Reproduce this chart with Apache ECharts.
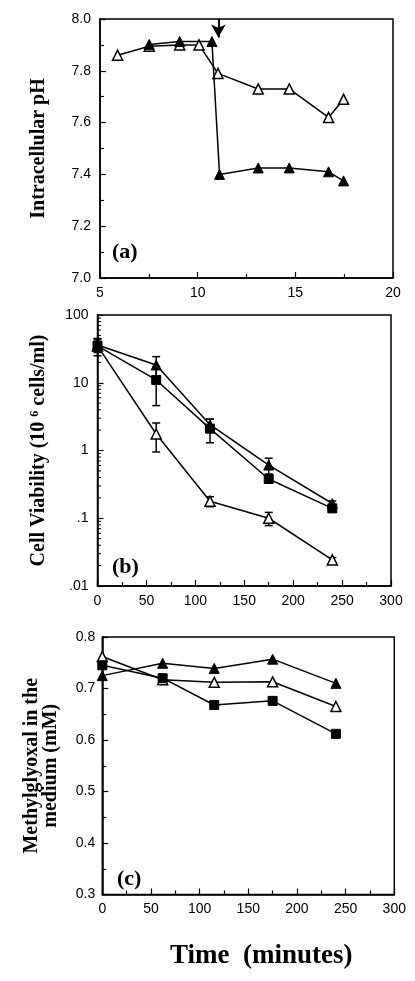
<!DOCTYPE html>
<html><head><meta charset="utf-8">
<script src="https://cdn.jsdelivr.net/npm/echarts@6/dist/echarts.min.js"></script>
<style>html,body{margin:0;padding:0;background:#fff}#c{width:415px;height:981px}</style>
</head><body><div id="c"></div>
<script>
// ---- Panel (a): intracellular pH vs time ----
const timeAOpen   = [5.9, 7.52, 9.08, 10.07, 11.04, 13.1, 14.69, 16.7, 17.47];
const phOpen      = [7.86, 7.895, 7.90, 7.90, 7.79, 7.73, 7.73, 7.62, 7.69];
const timeAFilled = [7.52, 9.08, 10.73, 11.12, 13.1, 14.69, 16.7, 17.47];
const phFilled    = [7.902, 7.913, 7.913, 7.40, 7.425, 7.425, 7.41, 7.375];
const arrowTime   = 11.06;
const xTicksA = [5, 10, 15, 20];
const yTicksA = [7.0, 7.2, 7.4, 7.6, 7.8, 8.0];

// ---- Panel (b): cell viability (log) ----
const timeB = [0, 60, 115, 175, 240];
const viabFilledTri    = [36, 18.3, 2.4, 0.61, 0.165];
const viabFilledTriErr = [8, 6, 0.5, 0.16, 0.015];
const viabSquare       = [35, 11, 2.1, 0.38, 0.14];
const viabSquareErr    = [10, 6.4, 0.8, 0.05, 0.015];
const viabOpen         = [35, 1.75, 0.178, 0.10, 0.0243];
const viabOpenErr      = [6, 0.8, 0.03, 0.022, 0.002];
const yTicksB = ['.01', '.1', '1', '10', '100'];

// ---- Panel (c): methylglyoxal in medium ----
const timeC = [0, 62, 115, 175, 240];
const mgFilledTri = [0.725, 0.749, 0.739, 0.757, 0.710];
const mgOpen      = [0.762, 0.717, 0.712, 0.713, 0.665];
const mgSquare    = [0.745, 0.720, 0.668, 0.676, 0.612];
const xTicksBC = [0, 50, 100, 150, 200, 250, 300];
const yTicksC = [0.3, 0.4, 0.5, 0.6, 0.7, 0.8];

const zip = (xs, ys) => xs.map((x, i) => [x, ys[i]]);
const errData = (xs, ys, es) => xs.map((x, i) => [x, ys[i] - es[i], ys[i] + es[i]]);

const BLACK = '#000';
const SERIF = '"Liberation Serif", "Times New Roman", serif';
const SANS = '"Liberation Sans", Arial, Helvetica, sans-serif';
const TICKFS = 14;

function axisBase(extra) {
  return Object.assign({
    axisLine: {show: true, onZero: false, lineStyle: {color: BLACK, width: 1.5}},
    axisTick: {show: true, inside: true, length: 6, lineStyle: {color: BLACK, width: 1.2}},
    minorTick: {show: true, splitNumber: 2, length: 4, lineStyle: {color: BLACK, width: 1.2}},
    splitLine: {show: false},
    minorSplitLine: {show: false},
    axisLabel: {color: BLACK, fontFamily: SANS, fontSize: TICKFS, margin: 8}
  }, extra);
}
const nameStyle = {color: BLACK, fontFamily: SERIF, fontWeight: 'bold', fontSize: 20};

const triOpen = {color: '#fff', borderColor: BLACK, borderWidth: 1.5};
const triFill = {color: BLACK, borderColor: BLACK, borderWidth: 1};
const lineSt = {color: BLACK, width: 1.5};

function lineSeries(xi, data, symbol, item, size, extra) {
  return Object.assign({
    type: 'line', xAxisIndex: xi, yAxisIndex: xi, data: data,
    symbol: symbol, symbolSize: size, showAllSymbol: true,
    itemStyle: item, lineStyle: lineSt, clip: false, animation: false, z: 3
  }, extra || {});
}

function errSeries(data) {
  return {
    type: 'custom', xAxisIndex: 1, yAxisIndex: 1, data: data, z: 2, animation: false, clip: false,
    renderItem: function (params, api) {
      const x = api.value(0);
      const p1 = api.coord([x, api.value(1)]);
      const p2 = api.coord([x, api.value(2)]);
      const w = 4;
      const st = {stroke: BLACK, lineWidth: 1.5};
      return {type: 'group', children: [
        {type: 'line', shape: {x1: p1[0], y1: p1[1], x2: p2[0], y2: p2[1]}, style: st},
        {type: 'line', shape: {x1: p1[0] - w, y1: p1[1], x2: p1[0] + w, y2: p1[1]}, style: st},
        {type: 'line', shape: {x1: p2[0] - w, y1: p2[1], x2: p2[0] + w, y2: p2[1]}, style: st}
      ]};
    }
  };
}

// log-axis minor tick positions (2..9 within each decade)
const logMinor = [];
[0.01, 0.1, 1, 10].forEach(d => { for (let m = 2; m <= 9; m++) logMinor.push([0, d * m]); });

const option = {
  backgroundColor: '#fff',
  animation: false,
  grid: [
    {left: 100, top: 19, width: 293, height: 259, show: true, borderColor: BLACK, borderWidth: 1.5, backgroundColor: 'transparent'},
    {left: 97.5, top: 315, width: 293.5, height: 271, show: true, borderColor: BLACK, borderWidth: 1.5, backgroundColor: 'transparent'},
    {left: 102.3, top: 637, width: 292, height: 257.5, show: true, borderColor: BLACK, borderWidth: 1.5, backgroundColor: 'transparent'}
  ],
  xAxis: [
    axisBase({type: 'value', gridIndex: 0, min: xTicksA[0], max: xTicksA[xTicksA.length - 1], interval: 5}),
    axisBase({type: 'value', gridIndex: 1, min: xTicksBC[0], max: xTicksBC[xTicksBC.length - 1], interval: 50}),
    axisBase({type: 'value', gridIndex: 2, min: xTicksBC[0], max: xTicksBC[xTicksBC.length - 1], interval: 50})
  ],
  yAxis: [
    axisBase({type: 'value', gridIndex: 0, min: yTicksA[0], max: yTicksA[yTicksA.length - 1], interval: 0.2,
      axisLabel: {color: BLACK, fontFamily: SANS, fontSize: TICKFS, margin: 9, formatter: v => v.toFixed(1)},
      name: 'Intracellular pH', nameLocation: 'middle', nameGap: 51, nameRotate: 90, nameTextStyle: nameStyle}),
    axisBase({type: 'log', logBase: 10, gridIndex: 1, min: +yTicksB[0], max: +yTicksB[yTicksB.length - 1],
      minorTick: {show: false},
      axisLabel: {color: BLACK, fontFamily: SANS, fontSize: TICKFS, margin: 9,
        formatter: v => v >= 1 ? String(Math.round(v)) : String(+v.toPrecision(1)).replace(/^0\./, '.')},
      name: 'Cell Viability (10 {sup|6} cells/ml)', nameLocation: 'middle', nameGap: 49, nameRotate: 90,
      nameTextStyle: Object.assign({}, nameStyle, {rich: {sup: {fontFamily: SERIF, fontWeight: 'bold', fontSize: 12, color: BLACK, verticalAlign: 'top', lineHeight: 20}}})}),
    axisBase({type: 'value', gridIndex: 2, min: yTicksC[0], max: yTicksC[yTicksC.length - 1], interval: 0.1,
      axisLabel: {color: BLACK, fontFamily: SANS, fontSize: TICKFS, margin: 7, formatter: v => v.toFixed(1)},
      name: 'Methylglyoxal in the\nmedium (mM)', nameLocation: 'middle', nameGap: 42, nameRotate: 90,
      nameTextStyle: Object.assign({}, nameStyle, {lineHeight: 19})})
  ],
  series: [
    // panel a
    lineSeries(0, zip(timeAOpen, phOpen), 'triangle', triOpen, 10),
    lineSeries(0, zip(timeAFilled, phFilled), 'triangle', triFill, 10, {
      z: 4,
      markLine: {
        silent: true, animation: false, symbol: ['none', 'arrow'], symbolSize: [11, 13],
        label: {show: false},
        lineStyle: {color: BLACK, width: 2, type: 'solid'},
        data: [[{coord: [arrowTime, 8.0]}, {coord: [arrowTime, 7.929]}]]
      }
    }),
    // panel b minor log ticks
    {
      type: 'custom', xAxisIndex: 1, yAxisIndex: 1, data: logMinor, z: 1, animation: false, silent: true,
      renderItem: function (params, api) {
        const p = api.coord([api.value(0), api.value(1)]);
        return {type: 'line', shape: {x1: p[0], y1: p[1], x2: p[0] + 3.5, y2: p[1]}, style: {stroke: BLACK, lineWidth: 1}};
      }
    },
    errSeries(errData(timeB, viabFilledTri, viabFilledTriErr)),
    errSeries(errData(timeB, viabSquare, viabSquareErr)),
    errSeries(errData(timeB, viabOpen, viabOpenErr)),
    lineSeries(1, zip(timeB, viabOpen), 'triangle', triOpen, 10),
    lineSeries(1, zip(timeB, viabSquare), 'rect', triFill, 9),
    lineSeries(1, zip(timeB, viabFilledTri), 'triangle', triFill, 10),
    // panel c
    lineSeries(2, zip(timeC, mgOpen), 'triangle', triOpen, 10),
    lineSeries(2, zip(timeC, mgSquare), 'rect', triFill, 9),
    lineSeries(2, zip(timeC, mgFilledTri), 'triangle', triFill, 10)
  ],
  graphic: [
    {type: 'text', left: 112, top: 241, style: {text: '(a)', font: 'bold 22px ' + SERIF, fill: BLACK}},
    {type: 'text', left: 112, top: 556, style: {text: '(b)', font: 'bold 22px ' + SERIF, fill: BLACK}},
    {type: 'text', left: 117, top: 868, style: {text: '(c)', font: 'bold 22px ' + SERIF, fill: BLACK}},
    {type: 'text', left: 170, top: 943, style: {text: 'Time  (minutes)', font: 'bold 27px ' + SERIF, fill: BLACK}}
  ]
};

const chart = echarts.init(document.getElementById('c'), null, {renderer: 'canvas'});
chart.setOption(option);
</script>
</body></html>
